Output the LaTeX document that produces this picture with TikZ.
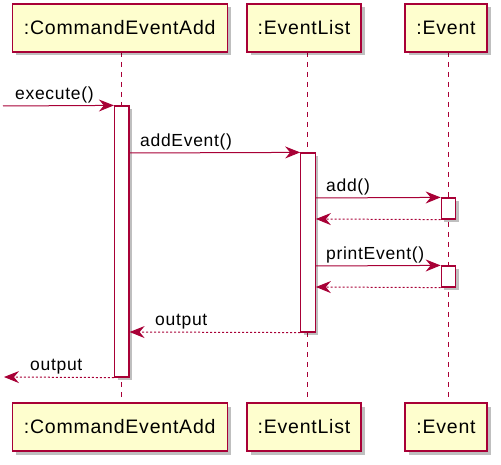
\documentclass[tikz,border=0pt]{standalone}
\usepackage{fontspec}
\setmainfont{Liberation Sans}[LetterSpace=4]
\usetikzlibrary{arrows.meta,shadows}
\definecolor{umlred}{HTML}{A80036}
\definecolor{umlfill}{HTML}{FEFECE}
\tikzset{
  partbox/.style={draw=umlred, line width=1.4pt, fill=umlfill, rectangle, inner sep=0pt,
    minimum height=48pt, font=\fontsize{19.5}{22}\selectfont,
    drop shadow={shadow xshift=3.5pt, shadow yshift=-3.5pt, fill=black, opacity=0.25}},
  actbar/.style={draw=umlred, line width=1.2pt, fill=white, rectangle, inner sep=0pt, minimum width=14.5pt,
    drop shadow={shadow xshift=3pt, shadow yshift=-3pt, fill=black, opacity=0.25}},
  lifeline/.style={draw=umlred, line width=1pt, dash pattern=on 5pt off 5pt},
  msg/.style={draw=umlred, line width=1pt, -{Stealth[length=15pt, width=12pt, inset=5pt]}},
  ret/.style={msg, dash pattern=on 2pt off 2pt},
  lbl/.style={inner sep=0pt, anchor=base west, font=\fontsize{17.5}{20}\selectfont}
}
\begin{document}
\begin{tikzpicture}[x=1pt, y=-1pt]
\useasboundingbox (0,0) rectangle (501,465);
% lifelines
\draw[lifeline] (121.5,52) -- (121.5,403);
\draw[lifeline] (307.5,52) -- (307.5,403);
\draw[lifeline] (448.5,52) -- (448.5,403);
% participants
\node[partbox, minimum width=215pt] (cTop) at (119.7,28) {:CommandEventAdd};
\node[partbox, minimum width=114pt] (lTop) at (304,28) {:EventList};
\node[partbox, minimum width=82pt] (eTop) at (446,28) {:Event};
\node[partbox, minimum width=215pt] (cBot) at (119.7,427) {:CommandEventAdd};
\node[partbox, minimum width=114pt] (lBot) at (304,427) {:EventList};
\node[partbox, minimum width=82pt] (eBot) at (446,427) {:Event};
% activation bars
\node[actbar, minimum height=271pt] (aC) at (121.75,241.5) {};
\node[actbar, minimum height=179pt] (aL) at (308,242.5) {};
\node[actbar, minimum height=21pt] (aE1) at (448.5,208.5) {};
\node[actbar, minimum height=21pt] (aE2) at (448.5,276.5) {};
% free ends
\coordinate (inS) at (3,106);
\coordinate (outE) at (4,377);
% messages
\draw[msg] (inS) -- (aC.north west);
\node[lbl] (t1) at (15,100) {execute()};
\draw[msg] (aC.east |- 0,153) -- (aL.north west);
\node[lbl] (t2) at (140,147) {addEvent()};
\draw[msg] (aL.east |- 0,198) -- (aE1.north west);
\node[lbl] (t3) at (326,192) {add()};
\draw[ret] (aE1.south west) -- (aL.east |- 0,219);
\draw[msg] (aL.east |- 0,266) -- (aE2.north west);
\node[lbl] (t4) at (326,260) {printEvent()};
\draw[ret] (aE2.south west) -- (aL.east |- 0,287);
\draw[ret] (aL.south west) -- (aC.east |- 0,332);
\node[lbl] (t5) at (155,325) {output};
\draw[ret] (aC.south west) -- (outE);
\node[lbl] (t6) at (30,370) {output};
\end{tikzpicture}
\end{document}
